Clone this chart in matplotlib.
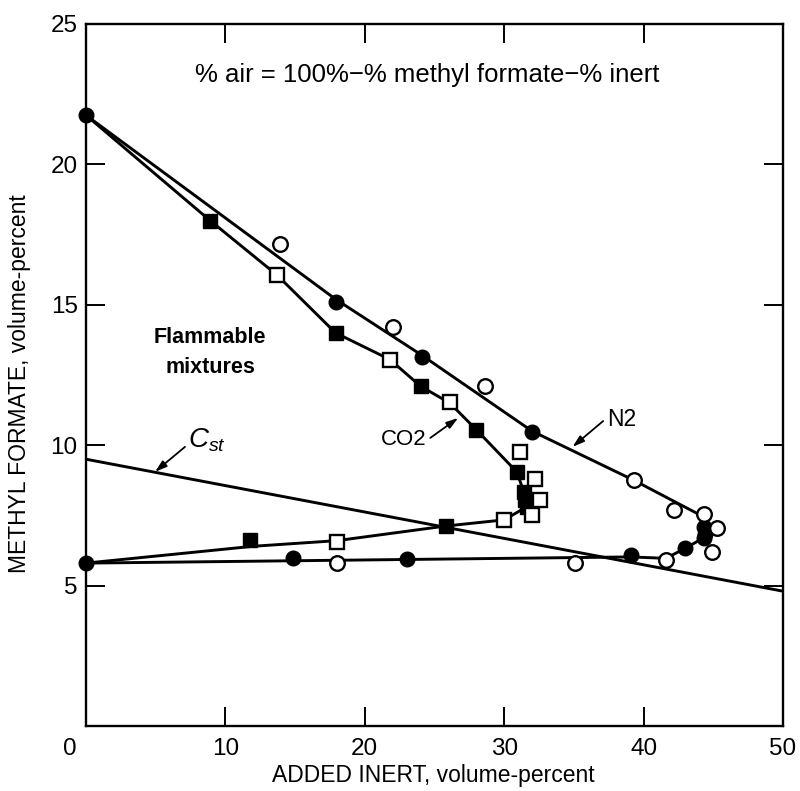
import numpy as np
import matplotlib
matplotlib.use("Agg")
import matplotlib.pyplot as plt
from matplotlib.transforms import ScaledTranslation

plt.rcParams['font.family'] = ['Liberation Sans', 'DejaVu Sans']
plt.rcParams['mathtext.fontset'] = 'custom'
plt.rcParams['mathtext.it'] = 'Liberation Sans:italic'
plt.rcParams['mathtext.rm'] = 'Liberation Sans'

# N2 measurements (filled = one set, open = other set)
n2_filled_x = [0, 17.9, 24.1, 32.0, 44.3, 44.4, 44.3, 43.0, 39.1, 23.0, 14.85, 0]
n2_filled_y = [21.75, 15.1, 13.15, 10.48, 7.1, 6.85, 6.68, 6.33, 6.1, 5.95, 5.98, 5.8]
n2_open_x = [13.9, 22.0, 28.6, 39.3, 42.2, 44.3, 45.3, 44.9, 41.6, 35.1, 18.0]
n2_open_y = [17.15, 14.2, 12.1, 8.76, 7.69, 7.54, 7.04, 6.21, 5.91, 5.82, 5.8]

# CO2 measurements
co2_filled_x = [8.9, 17.9, 24.0, 28.0, 30.9, 31.4, 31.5, 31.6, 25.8, 11.8]
co2_filled_y = [18.0, 14.0, 12.1, 10.55, 9.05, 8.35, 8.05, 7.8, 7.12, 6.62]
co2_open_x = [13.7, 21.8, 26.1, 31.1, 32.2, 32.6, 32.0, 30.0, 18.0]
co2_open_y = [16.06, 13.05, 11.55, 9.75, 8.8, 8.05, 7.5, 7.34, 6.55]

# hand drawn boundary curves
n2_line_x = [0, 17.9, 24.1, 32.0, 39.3, 44.3, 44.5, 44.3, 43.0, 41.6, 39.1, 0]
n2_line_y = [21.75, 15.2, 13.2, 10.5, 8.75, 7.45, 7.0, 6.7, 6.33, 5.97, 6.02, 5.8]
co2_line_x = [0, 8.9, 13.7, 17.9, 21.8, 24.0, 26.1, 28.0, 30.9, 31.4, 31.6, 30.0, 25.8, 18.0, 12.0, 0]
co2_line_y = [21.75, 18.0, 16.06, 14.0, 13.05, 12.1, 11.5, 10.55, 9.05, 8.35, 7.8, 7.34, 7.12, 6.6, 6.4, 5.8]

# stoichiometric line
cst_x = [0, 50]
cst_y = [9.5, 4.8]

x_ticks = [0, 10, 20, 30, 40, 50]
y_ticks = [5, 10, 15, 20, 25]

fig = plt.figure(figsize=(8, 7.91), dpi=100)
ax = fig.add_axes([0.1075, 0.0822, 0.87125, 0.8875])

lw = 2.1
ax.plot(cst_x, cst_y, color='black', lw=lw)
ax.plot(n2_line_x, n2_line_y, color='black', lw=lw)
ax.plot(co2_line_x, co2_line_y, color='black', lw=lw)

ms = 10.5
ax.plot(n2_filled_x, n2_filled_y, ls='none', marker='o', ms=ms, mfc='black',
        mec='black', clip_on=False, zorder=3)
ax.plot(n2_open_x, n2_open_y, ls='none', marker='o', ms=ms, mfc='white',
        mec='black', mew=1.7, clip_on=False, zorder=3)
ax.plot(co2_filled_x, co2_filled_y, ls='none', marker='s', ms=ms, mfc='black',
        mec='black', clip_on=False, zorder=3)
ax.plot(co2_open_x, co2_open_y, ls='none', marker='s', ms=ms, mfc='white',
        mec='black', mew=1.7, clip_on=False, zorder=3)

ax.set_xlim(0, 50)
ax.set_ylim(0, 25)
ax.set_xticks(x_ticks)
ax.set_yticks(y_ticks)
for s in ax.spines.values():
    s.set_linewidth(1.7)
ax.tick_params(direction='in', length=14, width=1.4, top=True, right=True,
               labelsize=17.5)
ax.tick_params(axis='x', pad=9)
ax.tick_params(axis='y', pad=6)

# the zero label sits left of the corner in the original
lab0 = ax.get_xticklabels()[0]
lab0.set_transform(lab0.get_transform() + ScaledTranslation(-0.16, 0, fig.dpi_scale_trans))

ax.set_xlabel('ADDED INERT, volume-percent', fontsize=16.5, va='center')
ax.xaxis.set_label_coords(0.499, -0.071)
ax.set_ylabel('METHYL FORMATE, volume-percent', fontsize=16.5, va='center', ha='center')
ax.yaxis.set_label_coords(-0.096, 0.487)

ax.text(24.5, 23.18, '% air = 100%\u2212% methyl formate\u2212% inert',
        ha='center', va='center', fontsize=18.5)
ax.text(8.9, 13.82, 'Flammable', ha='center', va='center', fontsize=15.5, fontweight='bold')
ax.text(8.9, 12.75, 'mixtures', ha='center', va='center', fontsize=15.5, fontweight='bold')

arrow = dict(arrowstyle='-|>,head_length=0.7,head_width=0.22', color='black',
             lw=1.3, shrinkA=0, shrinkB=0)
ax.text(8.7, 10.19, r'$C_{st}$', ha='center', va='center', fontsize=20)
ax.annotate('', xy=(4.95, 9.05), xytext=(7.1, 9.94), arrowprops=arrow)
ax.text(22.8, 10.19, 'CO2', ha='center', va='center', fontsize=16)
ax.annotate('', xy=(26.7, 10.97), xytext=(24.7, 10.26), arrowprops=arrow)
ax.text(38.4, 10.93, 'N2', ha='center', va='center', fontsize=16.5)
ax.annotate('', xy=(34.9, 9.94), xytext=(37.1, 10.86), arrowprops=arrow)

fig.savefig('out.png', dpi=100)
